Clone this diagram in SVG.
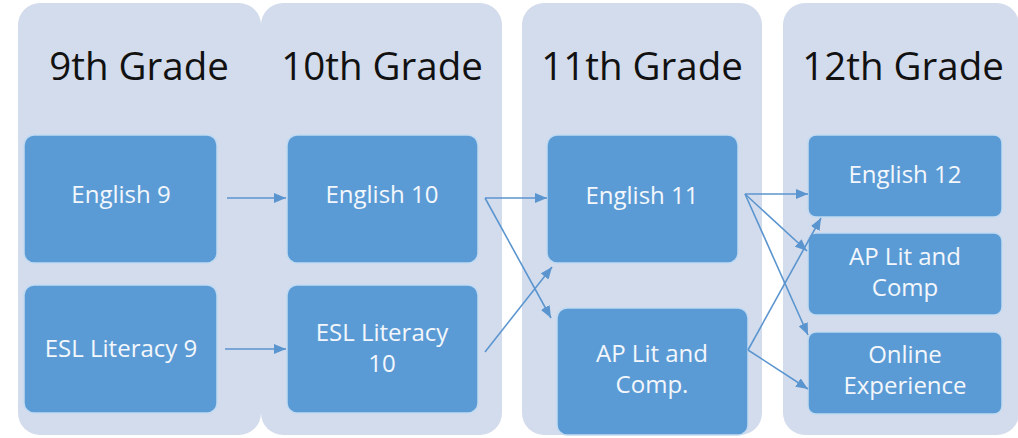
<svg xmlns="http://www.w3.org/2000/svg" width="1018" height="438" viewBox="0 0 1018 438">
<defs>
<marker id="ah" viewBox="0 0 12 10" refX="12" refY="5" markerWidth="12" markerHeight="10" markerUnits="userSpaceOnUse" orient="auto">
<path d="M0,0 L12,5 L0,10 Z" fill="#5b95cf"/>
</marker>
<style>
.panel{fill:#d3dcec;}
.node{fill:#5b9bd5;stroke:#c2daf1;stroke-width:1.5;}
.hd{font-family:"Open Sans","Liberation Sans",sans-serif;font-size:38.5px;fill:#111;text-anchor:middle;}
.lb{font-family:"Open Sans","Liberation Sans",sans-serif;font-size:24px;fill:#f3f7fc;text-anchor:middle;}
.cn{stroke:#5b95cf;stroke-width:1.6;fill:none;marker-end:url(#ah);}
</style>
</defs>
<rect width="1018" height="438" fill="#ffffff"/>
<g id="col9"><rect class="panel" x="18" y="3" width="243" height="432" rx="22"/><text class="hd" x="139" y="80">9th Grade</text></g>
<g id="col10"><rect class="panel" x="261" y="3" width="241" height="432" rx="22"/><text class="hd" x="382" y="80">10th Grade</text></g>
<g id="col11"><rect class="panel" x="522" y="3" width="240" height="432" rx="22"/><text class="hd" x="642" y="80">11th Grade</text></g>
<g id="col12"><rect class="panel" x="783" y="3" width="236" height="432" rx="22"/><text class="hd" x="903" y="80">12th Grade</text></g>

<g id="english9"><rect class="node" x="24" y="135" width="193" height="128" rx="10"/><text class="lb" x="121" y="203">English 9</text></g>
<g id="esl9"><rect class="node" x="24" y="285" width="193" height="128" rx="10"/><text class="lb" x="121" y="357">ESL Literacy 9</text></g>
<g id="english10"><rect class="node" x="287" y="135" width="191" height="128" rx="10"/><text class="lb" x="382" y="203">English 10</text></g>
<g id="esl10"><rect class="node" x="287" y="285" width="191" height="128" rx="10"/><text class="lb" x="382" y="341">ESL Literacy</text><text class="lb" x="382" y="372">10</text></g>
<g id="english11"><rect class="node" x="547" y="135" width="191" height="128" rx="10"/><text class="lb" x="642" y="204">English 11</text></g>
<g id="aplit11"><rect class="node" x="557" y="308" width="191" height="127" rx="10"/><text class="lb" x="652" y="362">AP Lit and</text><text class="lb" x="652" y="393">Comp.</text></g>
<g id="english12"><rect class="node" x="808" y="135" width="194" height="82" rx="8"/><text class="lb" x="905" y="183">English 12</text></g>
<g id="aplit12"><rect class="node" x="808" y="233" width="194" height="82" rx="8"/><text class="lb" x="905" y="265">AP Lit and</text><text class="lb" x="905" y="296">Comp</text></g>
<g id="online"><rect class="node" x="808" y="332" width="194" height="82" rx="8"/><text class="lb" x="905" y="363">Online</text><text class="lb" x="905" y="394">Experience</text></g>

<g id="connectors">
<line class="cn" x1="227" y1="198" x2="286" y2="198"/>
<line class="cn" x1="225" y1="349" x2="286" y2="349"/>
<line class="cn" x1="485" y1="198" x2="547" y2="198"/>
<line class="cn" x1="485" y1="198" x2="551" y2="318"/>
<line class="cn" x1="485" y1="352" x2="552" y2="267"/>
<line class="cn" x1="745" y1="194" x2="808" y2="194"/>
<line class="cn" x1="745" y1="194" x2="807" y2="251"/>
<line class="cn" x1="745" y1="194" x2="808" y2="335"/>
<line class="cn" x1="748" y1="350" x2="821" y2="218"/>
<line class="cn" x1="748" y1="350" x2="808" y2="389"/>
</g>
</svg>
